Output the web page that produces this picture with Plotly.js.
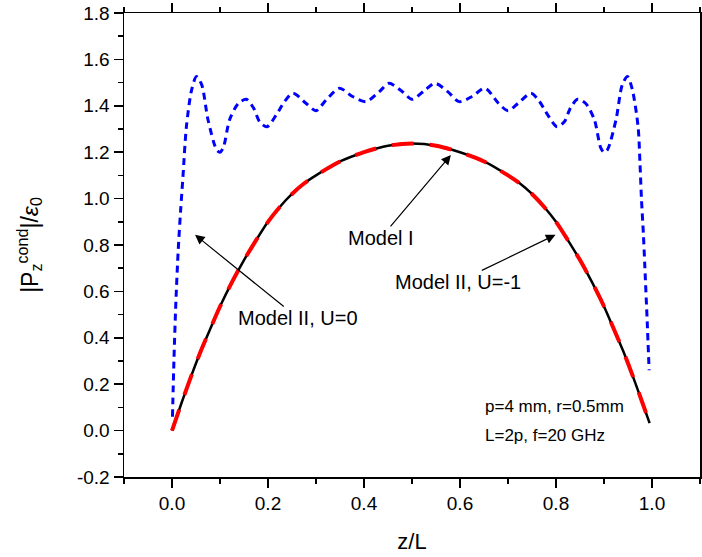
<!DOCTYPE html>
<html>
<head>
<meta charset="utf-8">
<script src="https://cdn.plot.ly/plotly-3.0.1.min.js"></script>
<style>html,body{margin:0;padding:0;background:#fff;}#chart{width:702px;height:557px;}</style>
</head>
<body>
<div id="chart"></div>
<script>
// Model I (black solid)
const zModelI = [0, 0.02, 0.04, 0.06, 0.08, 0.10, 0.125, 0.15, 0.175, 0.20, 0.225, 0.25, 0.275, 0.30, 0.35, 0.40, 0.45, 0.50,
                 0.55, 0.60, 0.65, 0.70, 0.725, 0.75, 0.775, 0.80, 0.825, 0.85, 0.875, 0.90, 0.92, 0.94, 0.96, 0.98, 0.995];
const pModelI = [0, 0.12, 0.235, 0.343, 0.44, 0.535, 0.64, 0.735, 0.82, 0.90, 0.965, 1.02, 1.065, 1.10, 1.16, 1.20, 1.228, 1.237,
                 1.228, 1.20, 1.16, 1.10, 1.065, 1.02, 0.965, 0.90, 0.82, 0.735, 0.64, 0.535, 0.44, 0.343, 0.235, 0.12, 0.032];
// Model II, U=-1 (red dashed)
const zModelIIm1 = [0, 0.02, 0.04, 0.06, 0.08, 0.10, 0.125, 0.15, 0.175, 0.20, 0.225, 0.25, 0.275, 0.30, 0.35, 0.40, 0.45, 0.50,
                    0.55, 0.60, 0.65, 0.70, 0.725, 0.75, 0.775, 0.80, 0.825, 0.85, 0.875, 0.90, 0.92, 0.94, 0.96, 0.98, 0.995];
const pModelIIm1 = [0, 0.12, 0.235, 0.343, 0.44, 0.535, 0.64, 0.735, 0.82, 0.90, 0.965, 1.02, 1.065, 1.10, 1.16, 1.20, 1.228, 1.237,
                    1.228, 1.20, 1.16, 1.10, 1.065, 1.02, 0.965, 0.90, 0.82, 0.735, 0.64, 0.535, 0.44, 0.343, 0.235, 0.12, 0.032];
// Model II, U=0 (blue dotted)
const zModelII0 = [0.001, 0.004, 0.008, 0.013, 0.018, 0.023, 0.030, 0.041, 0.051, 0.062, 0.075, 0.093, 0.100, 0.107, 0.120, 0.138,
                   0.155, 0.170, 0.183, 0.198, 0.217, 0.235, 0.252, 0.279, 0.300, 0.321, 0.349, 0.376, 0.404, 0.432, 0.452, 0.480,
                   0.500, 0.528, 0.548, 0.575, 0.598, 0.625, 0.652, 0.680, 0.700, 0.721, 0.748, 0.765, 0.783, 0.802, 0.817, 0.830,
                   0.845, 0.862, 0.880, 0.893, 0.900, 0.907, 0.925, 0.938, 0.949, 0.959, 0.971, 0.975, 0.978, 0.982, 0.985, 0.990, 0.994];
const pModelII0 = [0.06, 0.30, 0.55, 0.78, 0.95, 1.10, 1.31, 1.47, 1.526, 1.49, 1.34, 1.21, 1.20, 1.22, 1.34, 1.41,
                   1.428, 1.39, 1.33, 1.31, 1.36, 1.42, 1.454, 1.411, 1.379, 1.425, 1.476, 1.44, 1.418, 1.461, 1.497, 1.461,
                   1.428, 1.469, 1.497, 1.46, 1.418, 1.44, 1.476, 1.411, 1.379, 1.411, 1.454, 1.42, 1.36, 1.31, 1.33, 1.39,
                   1.428, 1.41, 1.34, 1.22, 1.20, 1.21, 1.34, 1.49, 1.526, 1.47, 1.31, 1.15, 1.0, 0.85, 0.71, 0.47, 0.26];

const xTickVals = [0, 0.2, 0.4, 0.6, 0.8, 1.0];
const xTickText = ['0.0', '0.2', '0.4', '0.6', '0.8', '1.0'];
const yTickVals = [-0.2, 0, 0.2, 0.4, 0.6, 0.8, 1.0, 1.2, 1.4, 1.6, 1.8];
const yTickText = ['-0.2', '0.0', '0.2', '0.4', '0.6', '0.8', '1.0', '1.2', '1.4', '1.6', '1.8'];

const labels = ['Model I', 'Model II, U=-1', 'Model II, U=0'];
const labelPos = [[0.435, 0.831], [0.596, 0.641], [0.2625, 0.485]];
const arrowHeads = [[0.581, 1.188], [0.799, 0.844], [0.048, 0.844]];
const noteLines = ['p=4 mm, r=0.5mm', 'L=2p, f=20 GHz'];
const notePos = [[0.648, 0.102], [0.648, -0.023]];

const traces = [
  {x: zModelII0, y: pModelII0, mode: 'lines', line: {color: '#0000ff', width: 3, dash: '7px,5px', shape: 'spline', smoothing: 0.8}, hoverinfo: 'skip'},
  {x: zModelI, y: pModelI, mode: 'lines', line: {color: '#000000', width: 2.5, shape: 'spline', smoothing: 0.8}, hoverinfo: 'skip'},
  {x: zModelIIm1, y: pModelIIm1, mode: 'lines', line: {color: '#ff0000', width: 4, dash: '22px,16px', shape: 'spline', smoothing: 0.8}, hoverinfo: 'skip'}
];

const annotations = [];
for (let i = 0; i < labels.length; i++) {
  annotations.push({x: arrowHeads[i][0], y: arrowHeads[i][1], ax: labelPos[i][0], ay: labelPos[i][1],
    xref: 'x', yref: 'y', axref: 'x', ayref: 'y', text: labels[i], showarrow: true,
    arrowhead: 2, arrowsize: 1.6, arrowwidth: 1.2, arrowcolor: '#000', borderpad: 0,
    font: {family: 'Liberation Sans, Arial', size: 20, color: '#000'}});
}
for (let i = 0; i < noteLines.length; i++) {
  annotations.push({x: notePos[i][0], y: notePos[i][1], xref: 'x', yref: 'y', xanchor: 'left', text: noteLines[i], showarrow: false,
    font: {family: 'Liberation Sans, Arial', size: 17, color: '#000'}});
}

const axisCommon = {
  showgrid: false, zeroline: false, showline: true, linecolor: '#000', linewidth: 1.5,
  ticks: 'outside', ticklen: 9, tickwidth: 1.5, tickcolor: '#000', mirror: 'ticks',
  tickfont: {family: 'Liberation Sans, Arial', size: 19, color: '#000'}
};

const layout = {
  width: 702, height: 557,
  margin: {l: 124, r: 2, t: 13, b: 80},
  paper_bgcolor: '#fff', plot_bgcolor: '#fff',
  showlegend: false,
  xaxis: Object.assign({}, axisCommon, {
    range: [-0.1, 1.1], tickmode: 'array', tickvals: xTickVals, ticktext: xTickText,
    minor: {dtick: 0.1, tick0: 0, ticks: 'outside', ticklen: 5, tickwidth: 1.5, tickcolor: '#000'},
    title: {text: 'z/L', font: {family: 'Liberation Sans, Arial', size: 22, color: '#000'}, standoff: 20}
  }),
  yaxis: Object.assign({}, axisCommon, {
    range: [-0.2, 1.8], tickmode: 'array', tickvals: yTickVals, ticktext: yTickText,
    minor: {dtick: 0.1, tick0: 0, ticks: 'outside', ticklen: 5, tickwidth: 1.5, tickcolor: '#000'},
    title: {text: '|P<sub>z</sub><sup>cond</sup>|/<i>ε</i><sub>0</sub>', font: {family: 'Liberation Sans, Arial', size: 23, color: '#000'}, standoff: 32}
  }),
  annotations: annotations
};

Plotly.newPlot('chart', traces, layout, {staticPlot: true, displayModeBar: false});
</script>
</body>
</html>
